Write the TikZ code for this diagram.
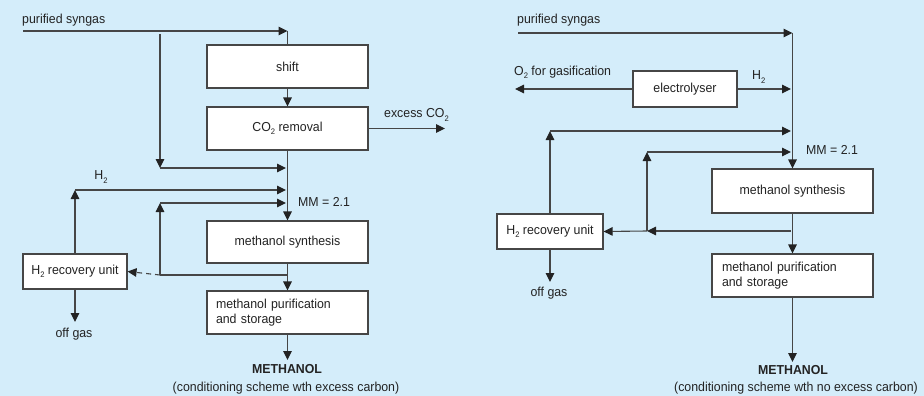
\documentclass[tikz,border=0pt]{standalone}
\usepackage{fontspec}
\setmainfont[FakeStretch=0.95]{Liberation Sans}
\usetikzlibrary{arrows.meta}
\definecolor{bg}{RGB}{212,237,250}
\definecolor{ln}{RGB}{35,35,35}
\definecolor{lg}{RGB}{70,70,70}
\definecolor{bx}{RGB}{70,70,70}
\newcommand{\subtwo}{\raisebox{-0.45ex}{\fontsize{8}{8}\selectfont 2}}
\begin{document}
\begin{tikzpicture}[x=1pt,y=-1pt,
  every node/.style={font=\fontsize{13}{15}\selectfont, text=ln},
  box/.style={draw=bx, line width=1.1pt, fill=white, inner sep=0pt, align=center},
  flow/.style={draw=lg, line width=1.1pt, -{Triangle[length=9pt,width=8.5pt,color=ln]}},
  plain/.style={draw=lg, line width=1.1pt},
  lbl/.style={inner sep=0pt}]
\fill[bg] (0,0) rectangle (924,396);
\useasboundingbox (0,0) rectangle (924,396);

% ---------------- left scheme ----------------
\node[box, minimum width=161pt, minimum height=43pt] (shift) at (287.5,66.5) {shift};
\node[box, minimum width=161pt, minimum height=43pt] (co2) at (287.5,128.5) {CO\subtwo{} removal};
\node[box, minimum width=161pt, minimum height=42pt] (synL) at (287.5,242) {methanol synthesis};
\node[box, minimum width=161pt, minimum height=43pt, align=left, text width=143pt] (purL) at (287.5,312.5) {methanol purification\\and storage};
\node[box, minimum width=104pt, minimum height=35pt] (h2rL) at (75,271.5) {H\subtwo{} recovery unit};

\coordinate (psL) at (23,31);
\coordinate (jL) at (287.5,31);
\coordinate (brTop) at (160,34);
\coordinate (brBot) at (160,168);
\coordinate (brEnd) at (286,168);
\coordinate (h2c) at (75,190);
\coordinate (h2e) at (286,190);
\coordinate (rj) at (287.5,275);
\coordinate (rc) at (160,275);
\coordinate (ru) at (160,203);
\coordinate (re) at (286,203);
\coordinate (exL) at (445,128.5);
\coordinate (offL) at (75,322);
\coordinate (meL) at (287.5,360);

\draw[flow] (psL) -- (jL);
\draw[plain] (jL) -- (shift.north);
\draw[flow] (shift.south) -- (co2.north);
\draw[flow] (co2.east) -- (exL);
\draw[flow] (brTop) -- (brBot);
\draw[flow] (brBot) -- (brEnd);
\draw[flow] (co2.south) -- (synL.north);
\draw[flow] (h2rL.north) -- (h2c);
\draw[flow] (h2c) -- (h2e);
\draw[flow] (synL.south) -- (purL.north);
\draw[plain] (rj) -- (rc);
\draw[flow] (rc) -- (ru);
\draw[flow] (ru) -- (re);
\draw[flow, dash pattern=on 5pt off 4pt] (rc) -- (h2rL.east);
\draw[flow] (h2rL.south) -- (offL);
\draw[flow] (purL.south) -- (meL);

\node[lbl, anchor=west] (tpsL) at (22,20) {purified syngas};
\node[lbl, anchor=west] (texL) at (384,115) {excess CO\subtwo};
\node[lbl] (th2L) at (101,177) {H\subtwo};
\node[lbl, anchor=west] (tmmL) at (298,202) {MM = 2.1};
\node[lbl] (toffL) at (74,334) {off gas};
\node[lbl] (tmeL) at (287,369) {\bfseries METHANOL};
\node[lbl] (tcapL) at (286,388) {(conditioning scheme wth excess carbon)};

% ---------------- right scheme ----------------
\node[box, minimum width=161pt, minimum height=44pt] (synR) at (792.5,191) {methanol synthesis};
\node[box, minimum width=161pt, minimum height=43pt, align=left, text width=141pt] (purR) at (792.5,275.5) {methanol purification\\and storage};
\node[box, minimum width=104pt, minimum height=36pt] (ely) at (685,89) {electrolyser};
\node[box, minimum width=106pt, minimum height=35pt] (h2rR) at (550,231.5) {H\subtwo{} recovery unit};

\coordinate (psR) at (518,33);
\coordinate (jR) at (792.5,33);
\coordinate (o2) at (515,89);
\coordinate (h2R) at (791,89);
\coordinate (h2u) at (550,131);
\coordinate (h2ue) at (791,131);
\coordinate (rjR) at (791,231);
\coordinate (rcR) at (647,231);
\coordinate (ruR) at (647,152);
\coordinate (reR) at (791,152);
\coordinate (offR) at (550,282);
\coordinate (meR) at (792.5,362);

\draw[flow] (psR) -- (jR);
\draw[flow] (jR) -- (synR.north);
\draw[flow] (ely.west) -- (o2);
\draw[flow] (ely.east) -- (h2R);
\draw[flow] (h2rR.north) -- (h2u);
\draw[flow] (h2u) -- (h2ue);
\draw[flow] (rjR) -- (rcR);
\draw[flow] (rcR) -- (h2rR.east);
\draw[flow] (rcR) -- (ruR);
\draw[flow] (ruR) -- (reR);
\draw[flow] (synR.south) -- (purR.north);
\draw[flow] (h2rR.south) -- (offR);
\draw[flow] (purR.south) -- (meR);

\node[lbl, anchor=west] (tpsR) at (517,20) {purified syngas};
\node[lbl, anchor=west] (to2) at (514,72) {O\subtwo{} for gasification};
\node[lbl, anchor=west] (th2R) at (752,77) {H\subtwo};
\node[lbl, anchor=west] (tmmR) at (806,150) {MM = 2.1};
\node[lbl] (toffR) at (549,293) {off gas};
\node[lbl] (tmeR) at (793,370) {\bfseries METHANOL};
\node[lbl] (tcapR) at (796,388) {(conditioning scheme wth no excess carbon)};
\end{tikzpicture}
\end{document}
